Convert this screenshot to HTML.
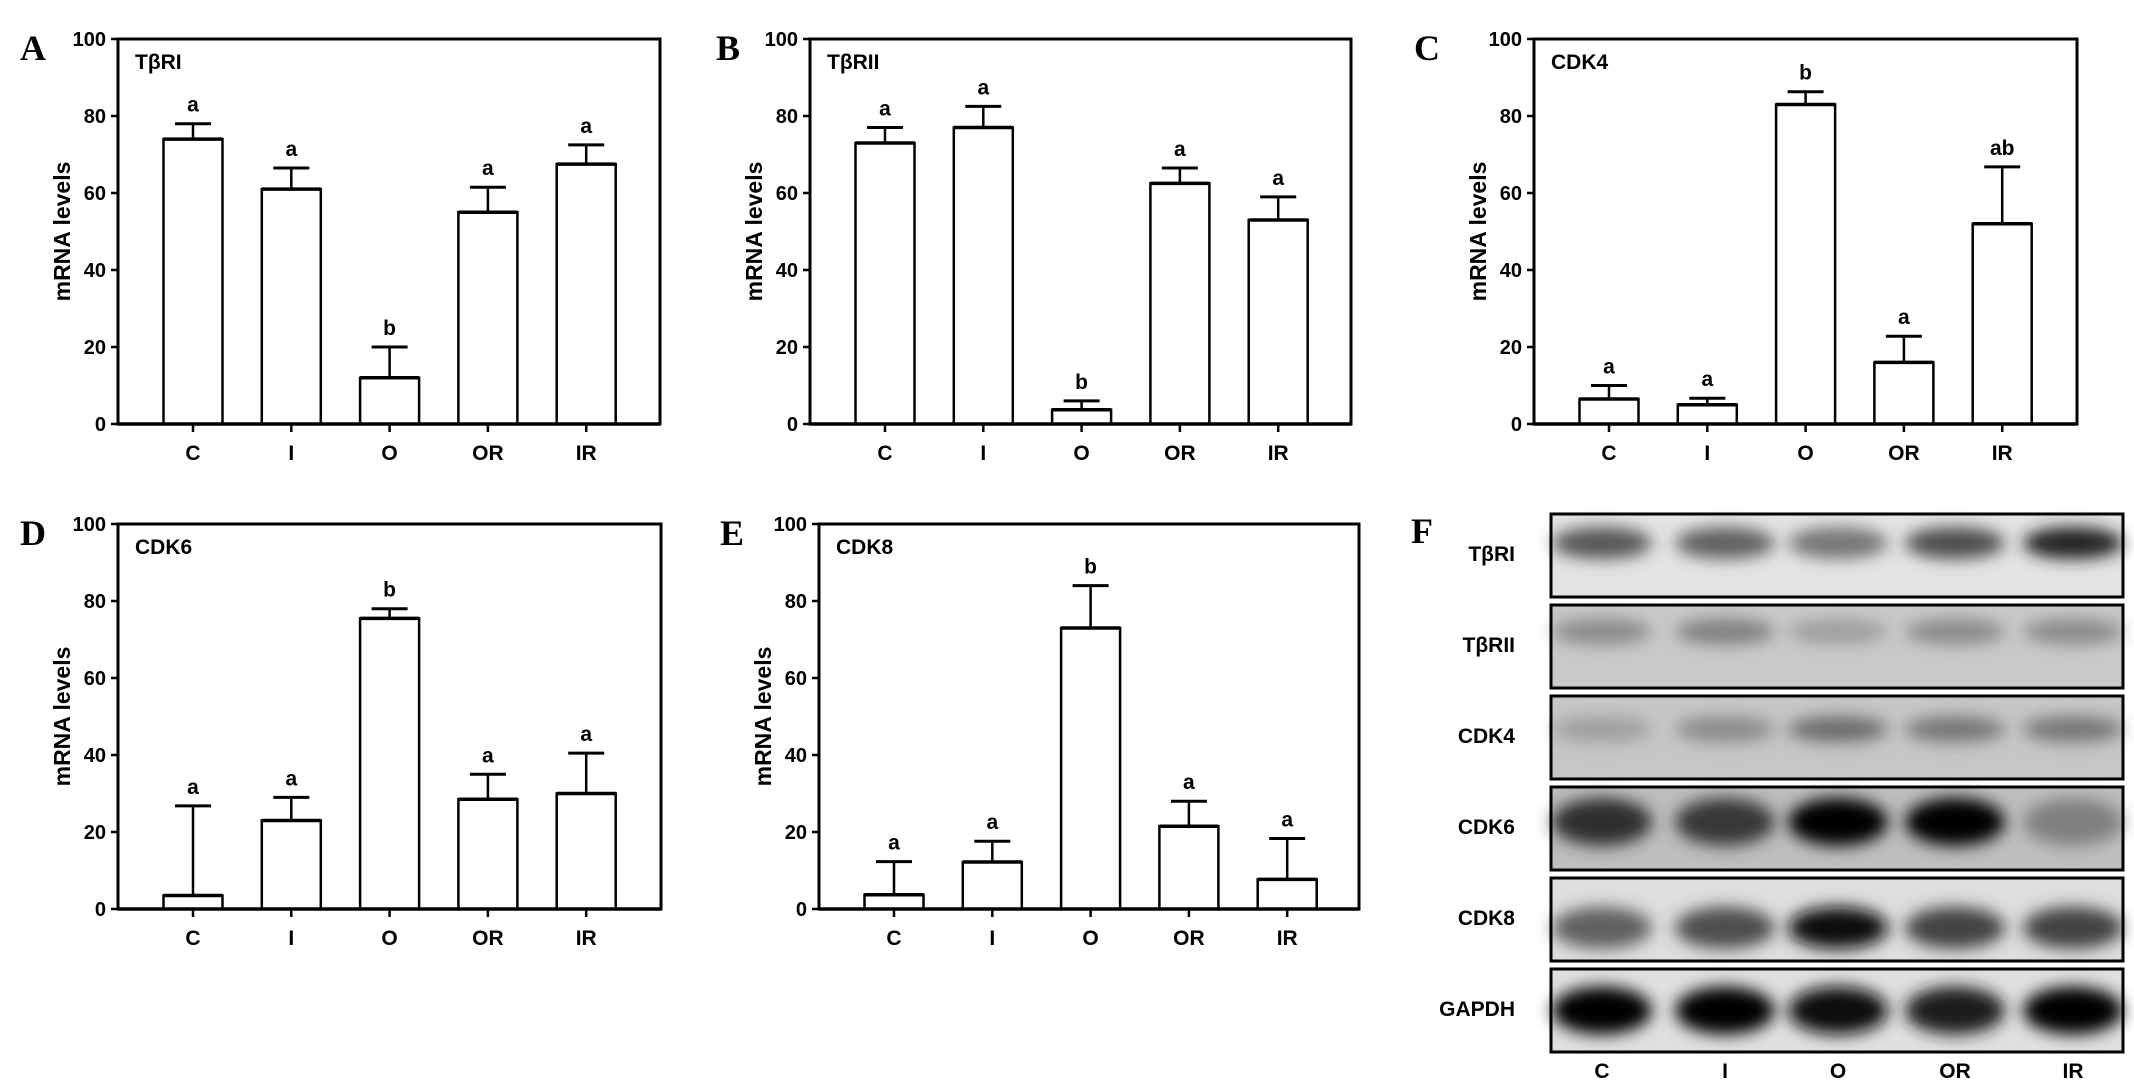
<!DOCTYPE html>
<html><head><meta charset="utf-8"><style>
html,body{margin:0;padding:0;background:#fff;}
svg{display:block;}
text{font-family:"Liberation Sans",Arial,sans-serif;font-weight:bold;fill:#000;}
.plab{font-family:"Liberation Serif",serif;font-weight:bold;font-size:36px;}
</style></head><body>
<svg id="fig" width="2134" height="1088" viewBox="0 0 2134 1088" xmlns="http://www.w3.org/2000/svg">
<defs>
<filter id="blur" x="-50%" y="-80%" width="200%" height="260%"><feGaussianBlur stdDeviation="8"/></filter>
</defs>
</svg>
<script>
const categories = ["C","I","O","OR","IR"];
const yTicks = [0,20,40,60,80,100];
const valsA = [74,61,12,55,67.5];
const errA  = [78,66.5,20,61.5,72.5];
const letA  = ["a","a","b","a","a"];
const valsB = [73,77,3.7,62.5,53];
const errB  = [77,82.5,6,66.5,59];
const letB  = ["a","a","b","a","a"];
const valsC = [6.5,5,83,16,52];
const errC  = [10,6.7,86.3,22.8,66.8];
const letC  = ["a","a","b","a","ab"];
const valsD = [3.5,23,75.5,28.5,30];
const errD  = [26.8,29,78,35,40.5];
const letD  = ["a","a","b","a","a"];
const valsE = [3.7,12.2,73,21.5,7.7];
const errE  = [12.3,17.6,84,28,18.3];
const letE  = ["a","a","b","a","a"];
const blotRows = ["TβRI","TβRII","CDK4","CDK6","CDK8","GAPDH"];
const blotBg   = ["#e4e4e4","#c9c9c9","#c6c6c6","#bebebe","#dedede","#e0e0e0"];
const bandTβRI  = [0.6,0.55,0.45,0.65,0.85];
const bandTβRII = [0.35,0.4,0.25,0.35,0.35];
const bandCDK4  = [0.25,0.35,0.5,0.45,0.45];
const bandCDK6  = [0.8,0.75,1.0,1.0,0.4];
const bandCDK8  = [0.55,0.65,0.95,0.7,0.7];
const bandGAPDH = [1.0,1.0,0.95,0.9,1.0];

const NS="http://www.w3.org/2000/svg";
const svg=document.getElementById('fig');
function mk(tag,attrs,parent){const e=document.createElementNS(NS,tag);for(const k in attrs)e.setAttribute(k,attrs[k]);(parent||svg).appendChild(e);return e;}

function panel(id,letter,title,L,R,T,B,vals,errs,lets,lx,ly){
  const g=mk('g',{});
  
  
  const y=v=>B-(v/100)*(B-T);
  const x=i=>L+75+i*98.3;
  const pl=mk('text',{x:lx,y:ly,class:'plab'},g);pl.textContent=letter;
  
  
  const fr=mk('rect',{x:L,y:T,width:R-L,height:B-T,fill:'none',stroke:'#000','stroke-width':3},g);
  
  
  const tt=mk('text',{x:L+17,y:T+30,'font-size':21},g);tt.textContent=title;
  
  
  const yt=mk('text',{x:0,y:0,'font-size':23,'text-anchor':'middle',transform:`translate(${L-48},${(T+B)/2}) rotate(-90)`},g);
  yt.textContent='mRNA levels';
  
  
  yTicks.forEach(v=>{
    mk('line',{x1:L-7,x2:L,y1:y(v),y2:y(v),stroke:'#000','stroke-width':2.5},g);
    const t=mk('text',{x:L-12,y:y(v)+7,'font-size':20,'text-anchor':'end'},g);t.textContent=v;
    
    
  });
  categories.forEach((c,i)=>{
    const cx=x(i);
    mk('line',{x1:cx,x2:cx,y1:B,y2:B+8,stroke:'#000','stroke-width':2.5},g);
    const t=mk('text',{x:cx,y:B+36,'font-size':21,'text-anchor':'middle'},g);t.textContent=c;
    
    
    const ye=y(errs[i]),yv=y(vals[i]);
    mk('line',{x1:cx,x2:cx,y1:yv,y2:ye,stroke:'#000','stroke-width':2.5},g);
    mk('line',{x1:cx-18,x2:cx+18,y1:ye,y2:ye,stroke:'#000','stroke-width':3},g);
    const bar=mk('rect',{x:cx-29.5,y:yv,width:59,height:B-yv,fill:'#fff',stroke:'#000','stroke-width':2.5},g);
    
    
    mk('line',{x1:cx-29.5,x2:cx+29.5,y1:yv,y2:yv,stroke:'#000','stroke-width':3.5},g);
    const lt=mk('text',{x:cx,y:ye-12,'font-size':21,'text-anchor':'middle'},g);lt.textContent=lets[i];
    
    
  });
  mk('line',{x1:L,x2:R,y1:B,y2:B,stroke:'#000','stroke-width':3.5},g);
}
panel('a','A','TβRI',118,660,39,424,valsA,errA,letA,20,60);
panel('b','B','TβRII',810,1351,39,424,valsB,errB,letB,716,60);
panel('c','C','CDK4',1534,2077,39,424,valsC,errC,letC,1414,60);
panel('d','D','CDK6',118,661,524,909,valsD,errD,letD,20,545);
panel('e','E','CDK8',819,1359,524,909,valsE,errE,letE,720,545);

const bands=[bandTβRI,bandTβRII,bandCDK4,bandCDK6,bandCDK8,bandGAPDH];
const laneX=[1602,1725,1838,1955,2073];
const bandRel=[0.35,0.32,0.4,0.42,0.6,0.5];
const bandRy=[16,13,13,24,21,24];
const gF=mk('g',{});


const fl=mk('text',{x:1411,y:543,class:'plab'},gF);fl.textContent='F';


blotRows.forEach((name,r)=>{
  const top=514+r*91, h=83;
  const bx=mk('rect',{x:1551,y:top,width:572,height:h,fill:blotBg[r]},gF);
  
  
  bands[r].forEach((d,i)=>{
    const shade=Math.round(210-d*205);
    const e=mk('ellipse',{cx:laneX[i],cy:top+h*bandRel[r],rx:50,ry:bandRy[r],fill:`rgb(${shade},${shade},${shade})`,filter:'url(#blur)'},gF);
    
    
  });
  mk('rect',{x:1551,y:top,width:572,height:h,fill:'none',stroke:'#000','stroke-width':3},gF);
  const t=mk('text',{x:1515,y:top+h*0.47+8,'font-size':21,'text-anchor':'end'},gF);t.textContent=name;
  
  
});
categories.forEach((c,i)=>{
  const t=mk('text',{x:laneX[i],y:1078,'font-size':21,'text-anchor':'middle'},gF);t.textContent=c;
  
  
});
</script>
</body></html>
